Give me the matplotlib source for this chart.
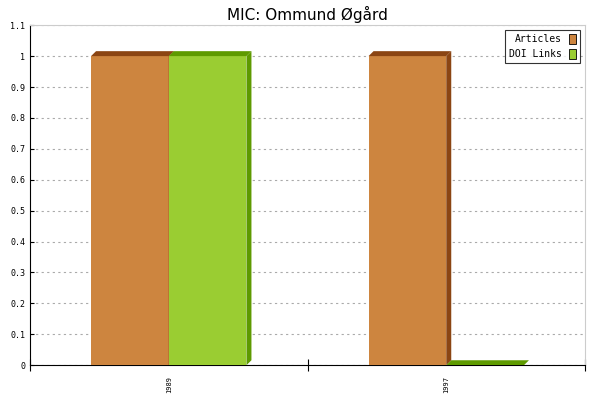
import matplotlib.pyplot as plt
from matplotlib.patches import Polygon, Patch

years = ['1989', '1997']
articles = [1, 1]
doi_links = [1, 0]

series = [
    ('Articles', articles, '#cd853f', '#8b4513'),
    ('DOI Links', doi_links, '#9acd32', '#5e9a00'),
]

fig = plt.figure(figsize=(6, 4), dpi=100)
ax = fig.add_axes([0.05, 0.087, 0.925, 0.85])

dx, dy = 0.018, 0.016
bw = 0.28
for i in range(len(years)):
    for j, (name, vals, face, dark) in enumerate(series):
        x0 = i + 0.22 + j * bw
        h = vals[i]
        ax.add_patch(Polygon([(x0, 0), (x0 + bw, 0), (x0 + bw, h), (x0, h)],
                             closed=True, fc=face, ec='none', zorder=3))
        ax.add_patch(Polygon([(x0 + bw, 0), (x0 + bw + dx, dy), (x0 + bw + dx, h + dy), (x0 + bw, h)],
                             closed=True, fc=dark, ec='none', zorder=3))
        ax.add_patch(Polygon([(x0, h), (x0 + bw, h), (x0 + bw + dx, h + dy), (x0 + dx, h + dy)],
                             closed=True, fc=dark, ec='none', zorder=3))

ax.set_xlim(0, len(years))
ax.set_ylim(0, 1.1)
ax.set_yticks([k / 10 for k in range(12)])
ax.set_yticklabels(['0'] + ['%g' % (k / 10) for k in range(1, 12)],
                   fontsize=6, family='DejaVu Sans Mono')
ax.set_xticks(range(len(years) + 1))
ax.set_xticklabels([])
ax.set_xticks([i + 0.5 for i in range(len(years))], minor=True)
ax.set_xticklabels(years, minor=True, rotation=90, fontsize=5, family='DejaVu Sans Mono')
ax.tick_params(axis='x', which='minor', length=0, pad=8)
ax.tick_params(axis='x', which='major', length=8, direction='inout')
ax.tick_params(axis='y', length=3, direction='in')
ax.grid(axis='y', linestyle=(0, (2, 3)), color='#aaaaaa', lw=0.8)
for s in ['top', 'right']:
    ax.spines[s].set_color('#cccccc')
ax.set_title('MIC: Ommund Øgård', fontsize=11, pad=4)

handles = [Patch(fc=s[2], ec='black', lw=0.6) for s in series]
leg = ax.legend(handles, [s[0] for s in series], loc='upper right', fontsize=7,
                prop={'family': 'DejaVu Sans Mono', 'size': 7}, fancybox=False,
                edgecolor='black', markerfirst=False, handlelength=0.7, handleheight=1.2)
leg.get_frame().set_linewidth(0.8)

fig.savefig('out.png')
